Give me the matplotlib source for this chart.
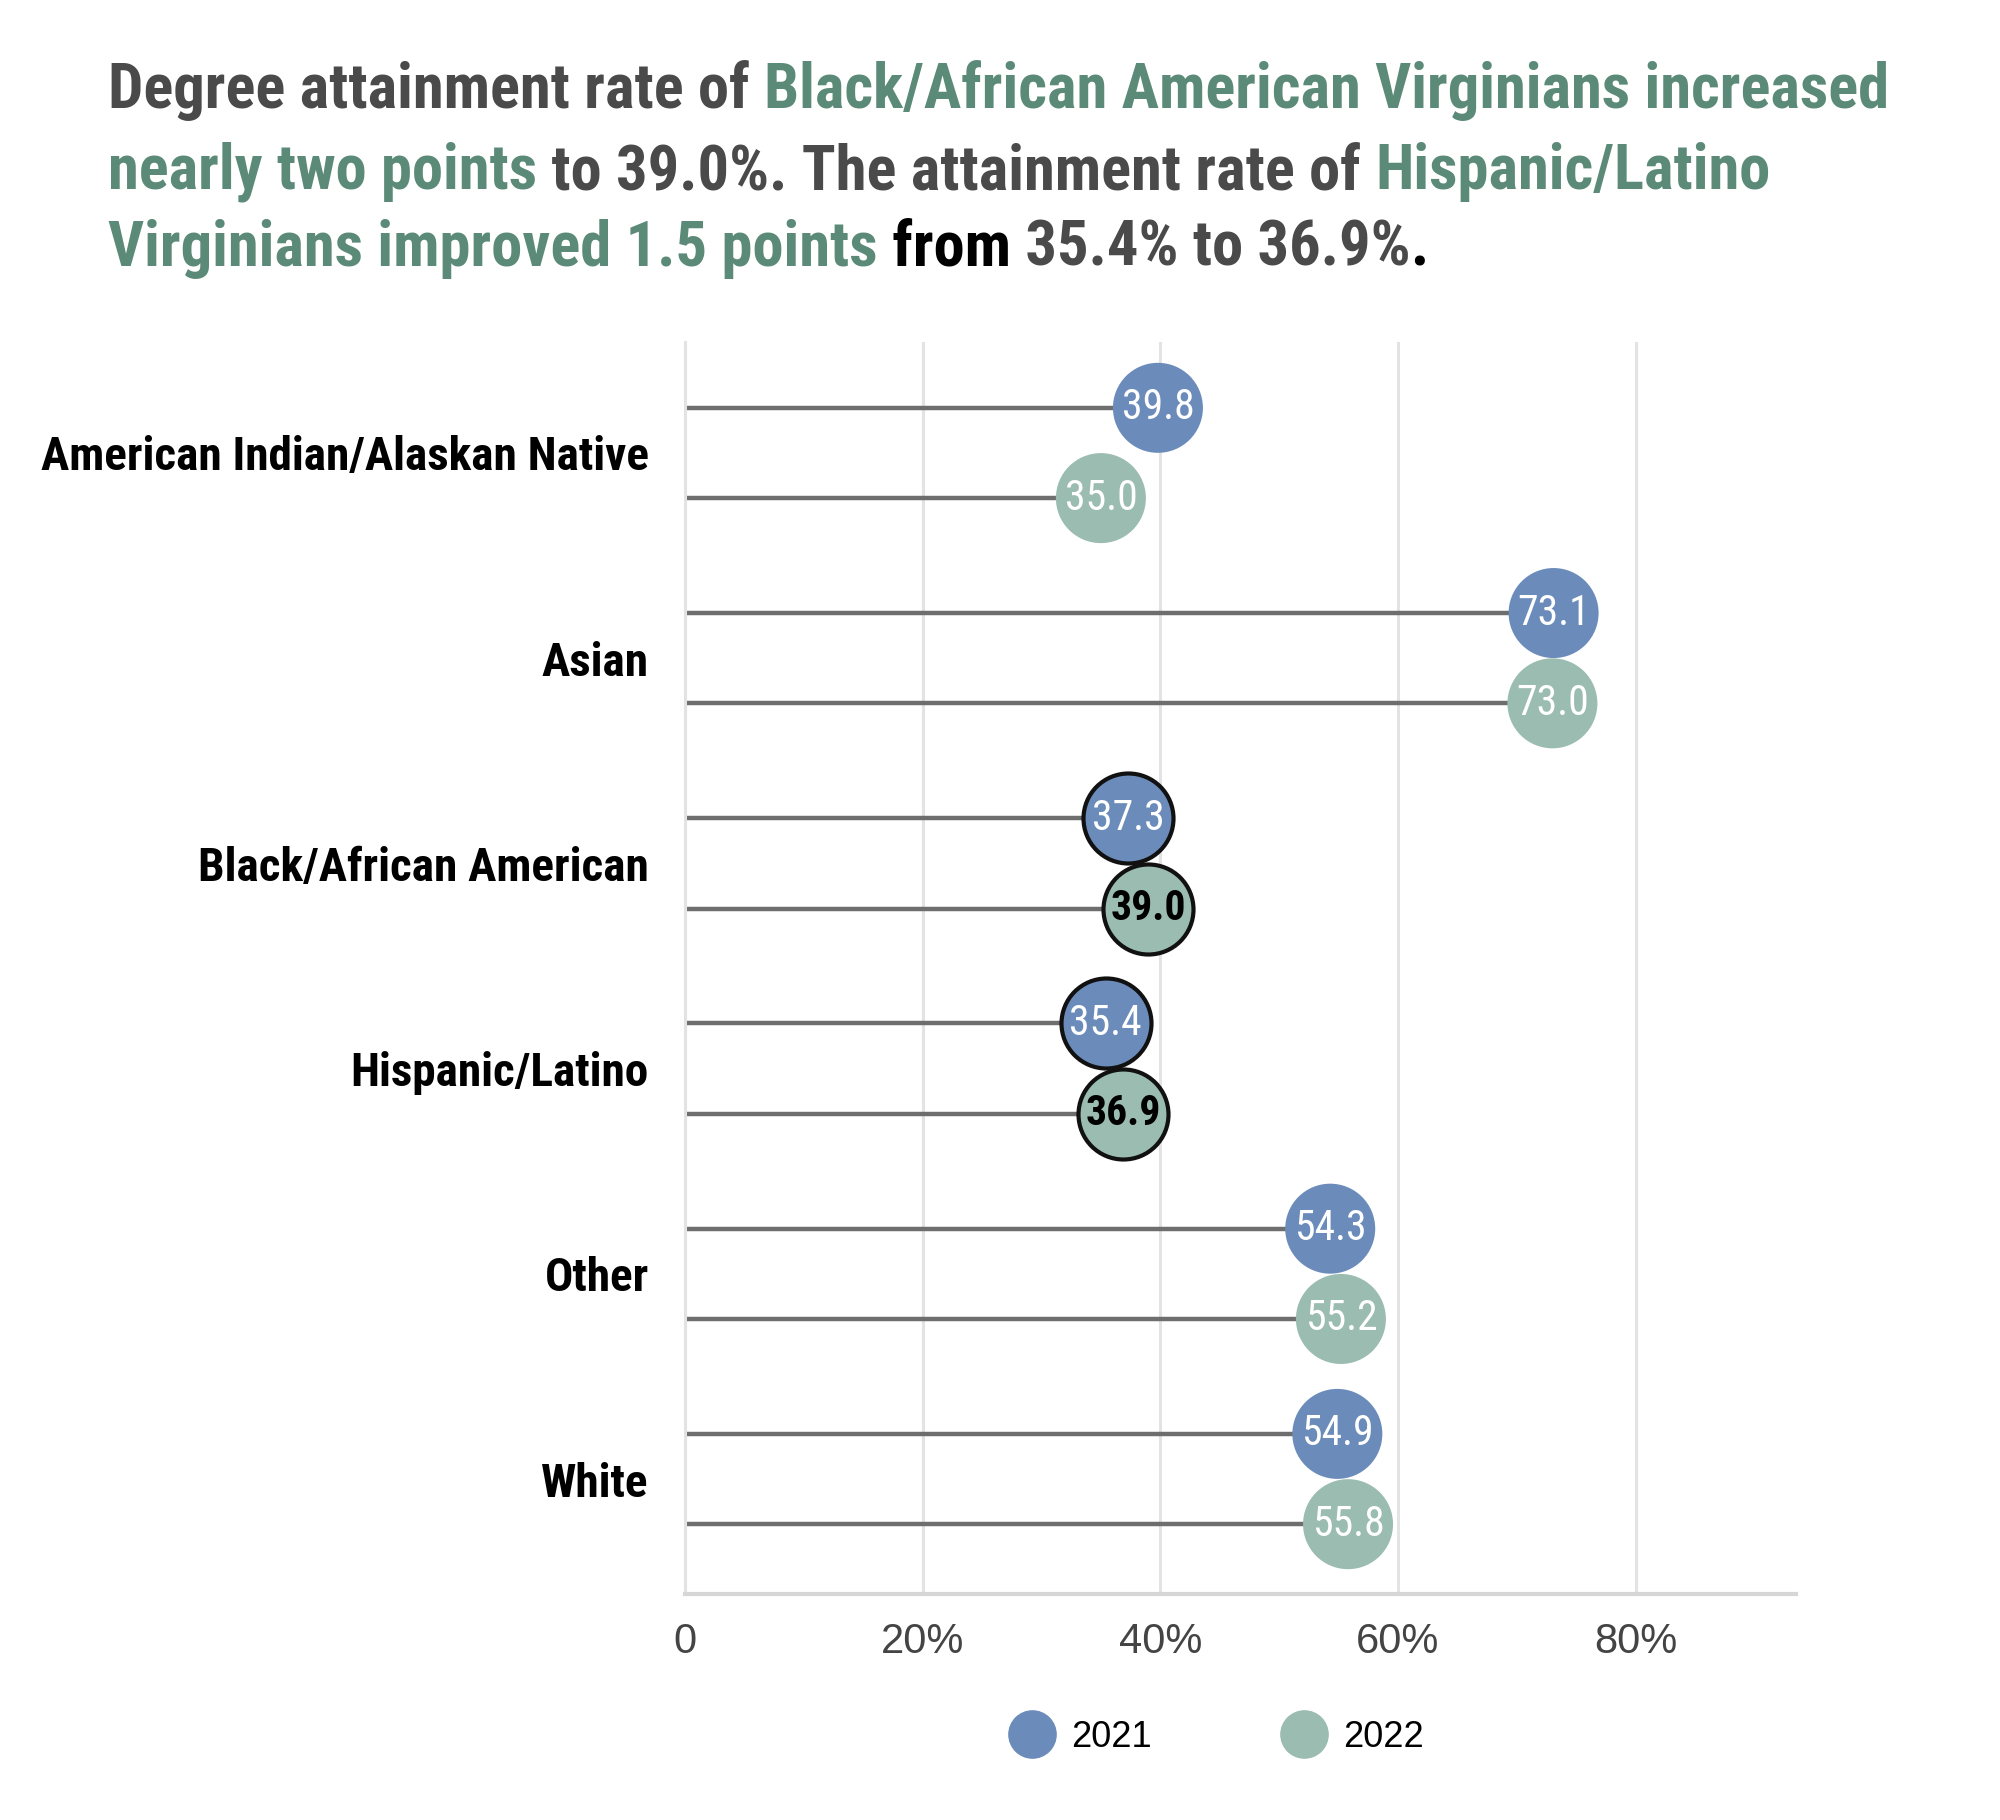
import matplotlib
matplotlib.use('Agg')
import matplotlib.pyplot as plt
from matplotlib import font_manager
from matplotlib.lines import Line2D

categories = ['American Indian/Alaskan Native', 'Asian', 'Black/African American',
              'Hispanic/Latino', 'Other', 'White']
v2021 = [39.8, 73.1, 37.3, 35.4, 54.3, 54.9]
v2022 = [35.0, 73.0, 39.0, 36.9, 55.2, 55.8]
highlight = ['Black/African American', 'Hispanic/Latino']
xticks = [0, 20, 40, 60, 80]
xticklabels = ['0', '20%', '40%', '60%', '80%']

blue = '#6b8cba'
green = '#9bbcb0'
dark = '#4a4a4a'
title_green = '#5b8a78'

names = {f.name for f in font_manager.fontManager.ttflist}
narrow = 'DejaVu Sans'
for cand in ['Roboto Condensed', 'Liberation Sans Narrow', 'Open Sans Condensed', 'DejaVu Sans Condensed']:
    if cand in names:
        narrow = cand
        break
plain = 'Liberation Sans' if 'Liberation Sans' in names else 'DejaVu Sans'
plt.rcParams['font.family'] = [narrow, 'DejaVu Sans']

fig = plt.figure(figsize=(20, 18.2), dpi=100)
ax = fig.add_axes([0.3425, 0.1242, 0.5555, 0.6878])

off = 0.22
for i, cat in enumerate(categories):
    hl = cat in highlight
    for val, dy, col, yr in [(v2021[i], -off, blue, 2021), (v2022[i], off, green, 2022)]:
        y = i + dy
        ax.plot([0, val], [y, y], color='#6e6e6e', lw=3.2, zorder=2, solid_capstyle='butt')
        ax.scatter([val], [y], s=4200, color=col, zorder=3,
                   edgecolors='#111111' if hl else 'none', linewidths=3 if hl else 0)
        if hl and yr == 2022:
            tc, fw = 'black', 'bold'
        else:
            tc, fw = 'white', 'normal'
        ax.text(val, y, f'{val:.1f}', ha='center', va='center', color=tc,
                fontsize=30, fontweight=fw, zorder=4)

ax.set_xlim(0, 93.5)
ax.set_ylim(5.56, -0.54)
ax.set_yticks(range(len(categories)))
ax.set_yticklabels(categories, fontsize=34, fontweight='bold', color='black')
ax.tick_params(axis='y', length=0, pad=26)
ax.set_xticks(xticks)
ax.set_xticklabels(xticklabels, fontsize=30, color='#444444', family=plain)
ax.tick_params(axis='x', length=0, pad=20)
ax.grid(axis='x', color='#e3e3e3', lw=2.2, zorder=0)
ax.set_axisbelow(True)
for s in ['top', 'right']:
    ax.spines[s].set_visible(False)
ax.spines['left'].set_color('#e3e3e3')
ax.spines['left'].set_linewidth(2.2)
ax.spines['bottom'].set_color('#d6d6d6')
ax.spines['bottom'].set_linewidth(3)

# title with coloured segments
title_lines = [
    [('Degree attainment rate of ', dark), ('Black/African American Virginians increased', title_green)],
    [('nearly two points', title_green), (' to 39.0%. The attainment rate of ', dark), ('Hispanic/Latino', title_green)],
    [('Virginians improved 1.5 points', title_green), (' from', 'black'), (' 35.4% to 36.9%', dark), ('.', 'black')],
]
renderer = fig.canvas.get_renderer()
tsize = 45


def seg_width(s):
    t1 = fig.text(0, 0, 'X' + s + 'X', fontsize=tsize, fontweight='bold')
    t2 = fig.text(0, 0, 'XX', fontsize=tsize, fontweight='bold')
    w = t1.get_window_extent(renderer).width - t2.get_window_extent(renderer).width
    t1.remove()
    t2.remove()
    return w


y_px = [108, 189, 266]
for line, yp in zip(title_lines, y_px):
    x = 108
    for s, c in line:
        fig.text(x / 2000, 1 - yp / 1820, s, fontsize=tsize, fontweight='bold', color=c,
                 va='baseline', ha='left')
        x += seg_width(s)

handles = [Line2D([], [], marker='o', ls='none', markersize=34, color=blue, label='2021'),
           Line2D([], [], marker='o', ls='none', markersize=34, color=green, label='2022')]
fig.legend(handles=handles, loc='center', bbox_to_anchor=(0.605, 0.0456), ncol=2, frameon=False,
           prop={'family': plain, 'size': 26}, handletextpad=0.1, columnspacing=3.2)

fig.savefig('out.png', dpi=100)
